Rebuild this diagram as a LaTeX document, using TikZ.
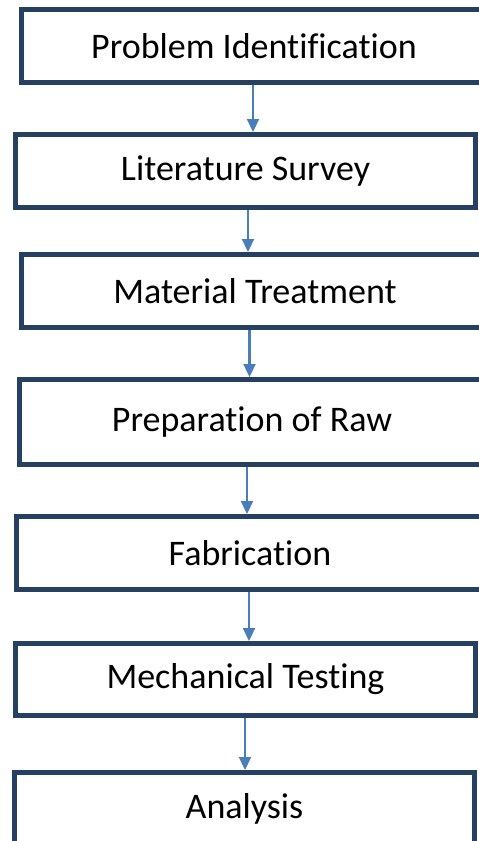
\documentclass[tikz,border=0pt]{standalone}
\usepackage{fontspec}
\setmainfont[Ligatures=NoCommon]{Carlito}
\usetikzlibrary{arrows.meta}
\definecolor{boxline}{RGB}{38,64,98}
\definecolor{flowline}{RGB}{74,126,187}
\begin{document}
\begin{tikzpicture}[x=1pt,y=-1pt,
		stage/.style={draw=boxline, line width=5pt, fill=white, minimum width=460pt, minimum height=73pt, inner sep=0pt, font=\fontsize{36}{42}\selectfont},
		flow/.style={draw=flowline, line width=2.2pt, -{Triangle[width=12pt,length=13pt]}}]
		\useasboundingbox (0,0) rectangle (479,841);
		\clip (0,0) rectangle (479,841);

		\node[stage, minimum width=465pt] (ident) at (254,46) {Problem Identification};
		\node[stage] (survey) at (245.5,171) {Literature Survey};
		\node[stage, minimum width=467pt] (treat) at (255,291) {Material Treatment};
		\node[stage, minimum width=465pt, minimum height=85pt] (raw) at (252,422) {Preparation of Raw};
		\node[stage, minimum width=467pt] (fab) at (250,553) {Fabrication};
		\node[stage, minimum height=72pt] (mech) at (245.5,679.5) {Mechanical Testing};
		\node[stage] (anal) at (244.5,809) {Analysis};

		\draw[flow] (ident.south -| 253,0) -- (survey.north -| 253,0);
		\draw[flow] (survey.south -| 248,0) -- (treat.north -| 248,0);
		\draw[flow] (treat.south -| 249.5,0) -- (raw.north -| 249.5,0);
		\draw[flow] (raw.south -| 247,0) -- (fab.north -| 247,0);
		\draw[flow] (fab.south -| 249,0) -- (mech.north -| 249,0);
		\draw[flow] (mech.south -| 245,0) -- (anal.north -| 245,0);
\end{tikzpicture}
\end{document}
